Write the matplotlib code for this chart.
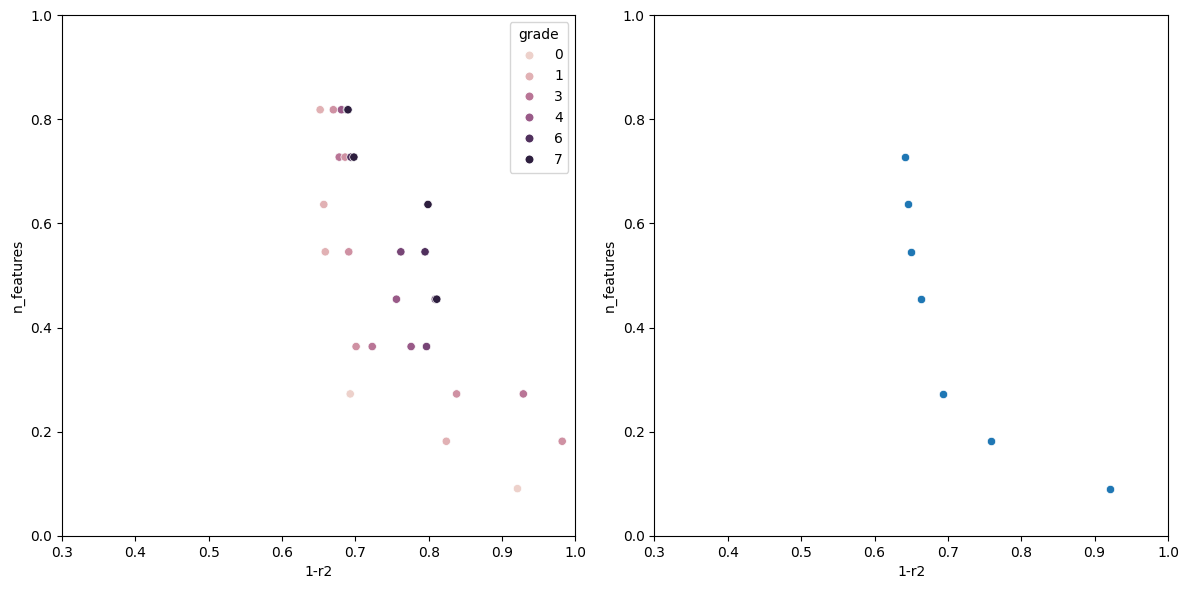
import matplotlib
matplotlib.use("Agg")
import matplotlib.pyplot as plt
from matplotlib.lines import Line2D
import matplotlib.colors as mcolors
import seaborn as sns
import pandas as pd

# Left panel data
left_x = [0.652, 0.670, 0.681, 0.689, 0.690,
          0.678, 0.686, 0.694, 0.698,
          0.657, 0.799,
          0.659, 0.691, 0.762, 0.795,
          0.756, 0.809, 0.811,
          0.701, 0.723, 0.776, 0.797,
          0.693, 0.838, 0.929,
          0.824, 0.982,
          0.921]
left_y = [9/11, 9/11, 9/11, 9/11, 9/11,
          8/11, 8/11, 8/11, 8/11,
          7/11, 7/11,
          6/11, 6/11, 6/11, 6/11,
          5/11, 5/11, 5/11,
          4/11, 4/11, 4/11, 4/11,
          3/11, 3/11, 3/11,
          2/11, 2/11,
          1/11]
left_grade = [1, 2, 4, 6, 7,
              3, 2, 6, 7,
              1, 7,
              1, 2, 5, 6,
              4, 6, 7,
              2, 3, 4, 5,
              0, 2, 3,
              1, 2,
              0]

# Right panel data
right_x = [0.642, 0.646, 0.650, 0.664, 0.694, 0.759, 0.921]
right_y = [8/11, 7/11, 6/11, 5/11, 3/11, 2/11, 1/11]

legend_levels = [0, 1, 3, 4, 6, 7]

df_left = pd.DataFrame({"1-r2": left_x, "n_features": left_y, "grade": left_grade})
df_right = pd.DataFrame({"1-r2": right_x, "n_features": right_y})

cmap = sns.cubehelix_palette(as_cmap=True)
norm = mcolors.Normalize(vmin=min(left_grade), vmax=max(left_grade))

fig, axes = plt.subplots(1, 2, figsize=(11.89, 5.89), dpi=100)
fig.subplots_adjust(left=0.0521, right=0.9823, bottom=0.090, top=0.9745, wspace=0.154)

ax = axes[0]
sns.scatterplot(data=df_left, x="1-r2", y="n_features", hue="grade",
                palette=cmap, hue_norm=(min(left_grade), max(left_grade)),
                legend=False, ax=ax)
handles = [Line2D([], [], marker="o", linestyle="", markersize=6.5,
                  markerfacecolor=cmap(norm(g)), markeredgecolor="w",
                  markeredgewidth=0.75, label=str(g)) for g in legend_levels]
ax.legend(handles=handles, title="grade", loc="upper right")
ax.set_xlim(0.3, 1.0)
ax.set_ylim(0, 1.0)

ax = axes[1]
sns.scatterplot(data=df_right, x="1-r2", y="n_features", ax=ax)
ax.set_xlim(0.3, 1.0)
ax.set_ylim(0, 1.0)

fig.savefig("out.png", dpi=100)
